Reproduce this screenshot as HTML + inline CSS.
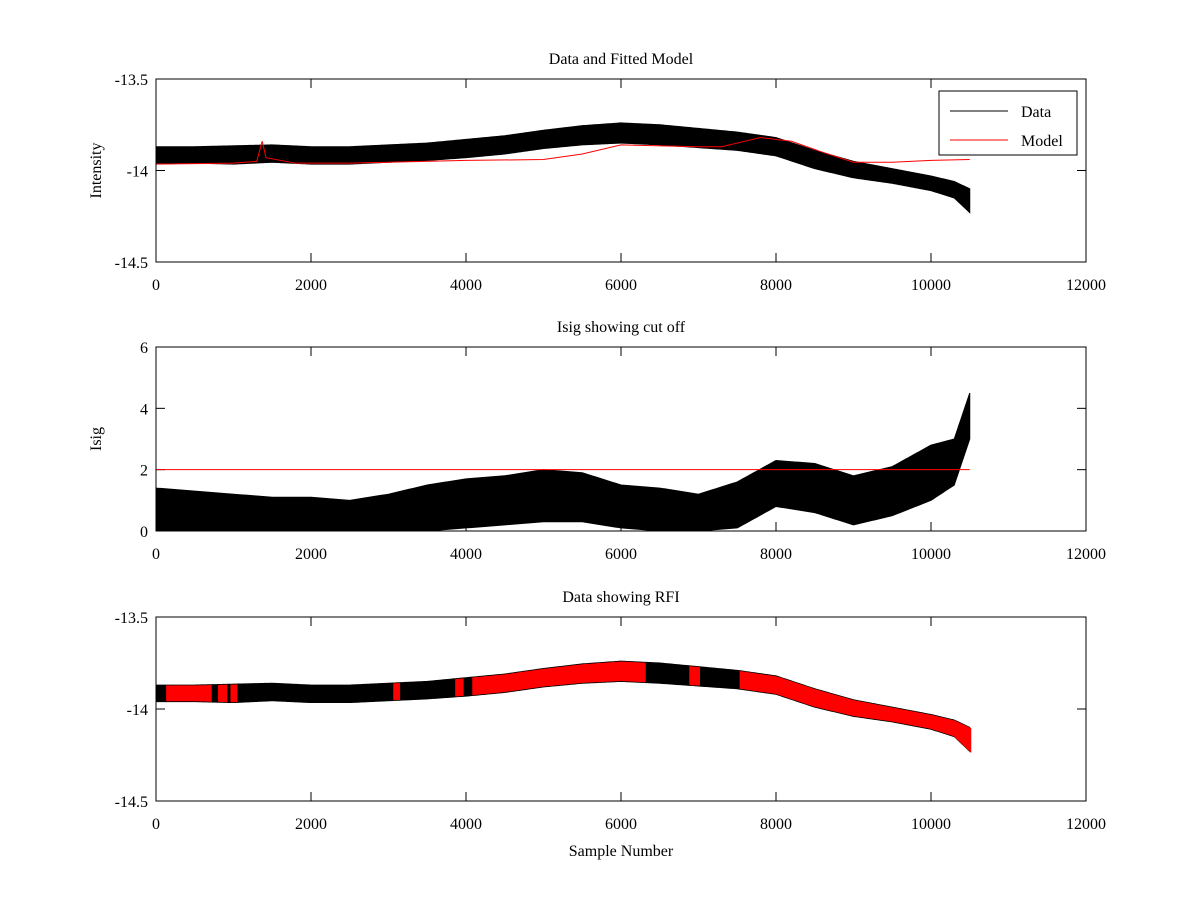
<!DOCTYPE html>
<html><head><meta charset="utf-8"><style>
body{margin:0;background:#fff}
svg text{font-family:"Liberation Serif",serif;font-size:16px;fill:#000}
</style></head><body>
<svg width="1200" height="900" xmlns="http://www.w3.org/2000/svg" id="fig">
<rect width="1200" height="900" fill="#fff"/>
</svg>
<script>
// shared sample positions (sample number)
const xs = [0,500,1000,1500,2000,2500,3000,3500,4000,4500,5000,5500,6000,6500,7000,7500,8000,8500,9000,9500,10000,10300,10500];
// panel 1 data envelope (intensity)
const dataLo = [-13.96,-13.96,-13.965,-13.955,-13.965,-13.965,-13.955,-13.945,-13.93,-13.91,-13.88,-13.86,-13.85,-13.86,-13.875,-13.89,-13.92,-13.99,-14.04,-14.07,-14.11,-14.15,-14.23];
const dataHi = [-13.87,-13.87,-13.865,-13.86,-13.87,-13.87,-13.86,-13.85,-13.83,-13.81,-13.78,-13.755,-13.74,-13.75,-13.77,-13.79,-13.82,-13.89,-13.95,-13.99,-14.03,-14.06,-14.10];
// model
const modelX = [0,1000,1300,1370,1420,1800,2500,3000,4000,5000,5500,6000,7000,7300,7500,7800,8200,8600,9000,9500,10000,10500];
const modelY = [-13.965,-13.96,-13.95,-13.84,-13.93,-13.96,-13.96,-13.955,-13.945,-13.94,-13.91,-13.86,-13.87,-13.87,-13.85,-13.82,-13.84,-13.90,-13.955,-13.955,-13.945,-13.94];
// isig envelope
const isigLo = [0,0,0,0,0,0,0,0,0.1,0.2,0.3,0.3,0.1,0,0,0.1,0.8,0.6,0.2,0.5,1.0,1.5,3.0];
const isigHi = [1.4,1.3,1.2,1.1,1.1,1.0,1.2,1.5,1.7,1.8,2.0,1.9,1.5,1.4,1.2,1.6,2.3,2.2,1.8,2.1,2.8,3.0,4.5];
const cutoff = 2;
// RFI flagged ranges (sample start, end)
const rfiStart = [150,820,980,3080,3880,4100,6900,7550];
const rfiEnd   = [700,900,1030,3130,3950,6300,7000,10500];
const xTicks = [0,2000,4000,6000,8000,10000,12000];

const NS="http://www.w3.org/2000/svg", svg=document.getElementById('fig');
function mk(tag,attrs,parent){const e=document.createElementNS(NS,tag);for(const k in attrs)e.setAttribute(k,attrs[k]);(parent||svg).appendChild(e);return e;}
const X0=156,X1=1086;
const sx=v=>X0+(v/12000)*(X1-X0);
function interp(arrX,arrY,v){for(let i=0;i<arrX.length-1;i++){if(v<=arrX[i+1]){const t=(v-arrX[i])/(arrX[i+1]-arrX[i]);return arrY[i]+t*(arrY[i+1]-arrY[i]);}}return arrY[arrY.length-1];}
function band(g,sy,lo,hi,from,to,color,extra){
  const top=[],bot=[];
  const step=(to-from)/Math.max(1,Math.round((to-from)/20));
  for(let v=from;v<=to+0.01;v+=step){top.push(sx(v)+','+sy(interp(xs,hi,v)-extra));bot.unshift(sx(v)+','+sy(interp(xs,lo,v)+extra));}
  return mk('polygon',{points:top.concat(bot).join(' '),fill:color,stroke:color,'stroke-width':1},g);
}
function axes(name,top,bot,ymin,ymax,yticks,ylabels,title,ytitle){
  const g=mk('g',{});
  
  
  const sy=v=>bot-(v-ymin)/(ymax-ymin)*(bot-top);
  const t=mk('text',{x:(X0+X1)/2,y:top-15,'text-anchor':'middle'},g);t.textContent=title;
  
  
  if(ytitle){const yt=mk('text',{x:0,y:0,'text-anchor':'middle',transform:`translate(${X0-55},${(top+bot)/2}) rotate(-90)`},g);yt.textContent=ytitle;
  
  }
  xTicks.forEach(v=>{const x=sx(v);
    mk('line',{x1:x,x2:x,y1:bot,y2:bot-9,stroke:'#000'},g);mk('line',{x1:x,x2:x,y1:top,y2:top+9,stroke:'#000'},g);
    const l=mk('text',{x:x,y:bot+28,'text-anchor':'middle'},g);l.textContent=v;
    
    });
  yticks.forEach((v,i)=>{const y=sy(v);
    mk('line',{x1:X0,x2:X0+9,y1:y,y2:y,stroke:'#000'},g);mk('line',{x1:X1,x2:X1-9,y1:y,y2:y,stroke:'#000'},g);
    const l=mk('text',{x:X0-8,y:y+6,'text-anchor':'end'},g);l.textContent=ylabels[i];
    
    });
  return {g,sy};
}
// Panel 1
const a1=axes('data-fitted-model-panel',79,262,-14.5,-13.5,[-14.5,-14,-13.5],['-14.5','-14','-13.5'],'Data and Fitted Model','Intensity');
const d1=band(a1.g,a1.sy,dataLo,dataHi,0,10500,'#000',0);


const m1=mk('polyline',{points:modelX.map((v,i)=>sx(v)+','+a1.sy(modelY[i])).join(' '),fill:'none',stroke:'#f00','stroke-width':1},a1.g);


mk('rect',{x:X0,y:79,width:X1-X0,height:183,fill:'none',stroke:'#000'},a1.g);
// legend
const lg=mk('g',{});


mk('rect',{x:939,y:91,width:138,height:64,fill:'#fff',stroke:'#000'},lg);
mk('line',{x1:950,x2:1008,y1:111,y2:111,stroke:'#000'},lg);
mk('line',{x1:950,x2:1008,y1:140,y2:140,stroke:'#f00'},lg);
const lt1=mk('text',{x:1021,y:117},lg);lt1.textContent='Data';


const lt2=mk('text',{x:1021,y:146},lg);lt2.textContent='Model';


// Panel 2
const a2=axes('isig-panel',347,531,0,6,[0,2,4,6],['0','2','4','6'],'Isig showing cut off','Isig');
const d2=band(a2.g,a2.sy,isigLo,isigHi,0,10500,'#000',0);


const c2=mk('line',{x1:sx(0),x2:sx(10500),y1:a2.sy(cutoff),y2:a2.sy(cutoff),stroke:'#f00'},a2.g);


mk('rect',{x:X0,y:347,width:X1-X0,height:184,fill:'none',stroke:'#000'},a2.g);
// Panel 3
const a3=axes('rfi-panel',617,801,-14.5,-13.5,[-14.5,-14,-13.5],['-14.5','-14','-13.5'],'Data showing RFI','');
const d3=band(a3.g,a3.sy,dataLo,dataHi,0,10500,'#000',0);


rfiStart.forEach((s,i)=>{const r=band(a3.g,a3.sy,dataLo,dataHi,s,rfiEnd[i],'#f00',0.01);
  r.setAttribute('stroke-width',3);
  
  });
mk('rect',{x:X0,y:617,width:X1-X0,height:184,fill:'none',stroke:'#000'},a3.g);
const xt=mk('text',{x:621,y:856,'text-anchor':'middle'});xt.textContent='Sample Number';


</script>
</body></html>
